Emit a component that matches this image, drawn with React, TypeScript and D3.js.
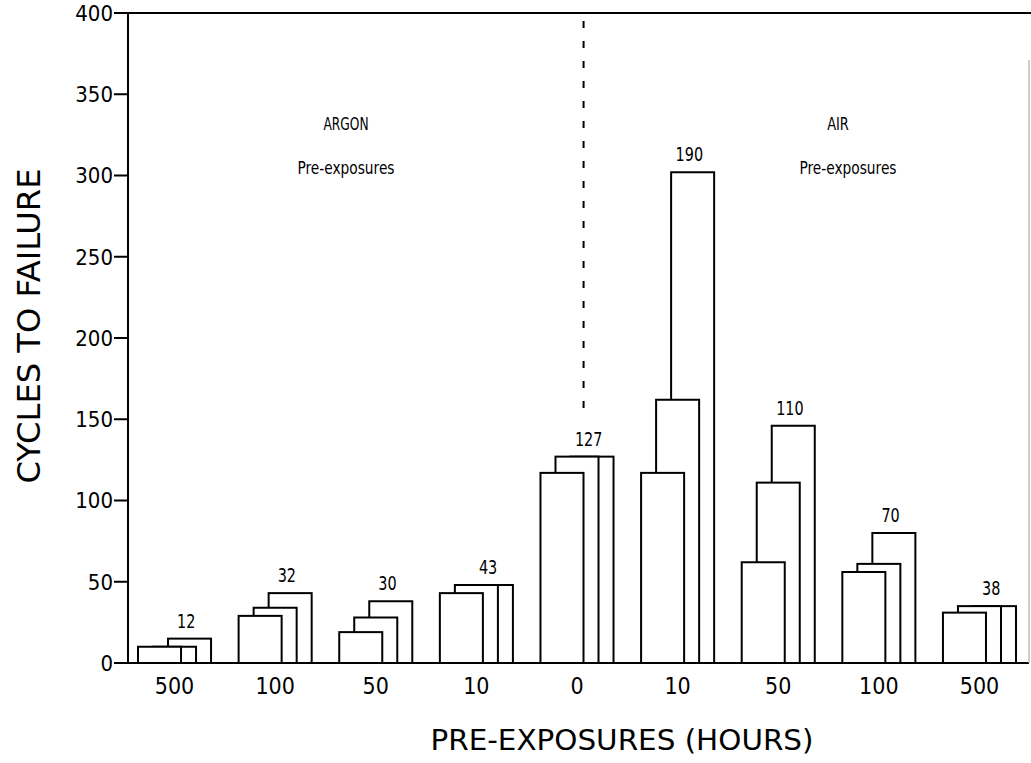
import React from "react";
import * as d3 from "d3";

const categories = ["500", "100", "50", "10", "0", "10", "50", "100", "500"];
const series1 = [10, 29, 19, 43, 117, 117, 62, 56, 31];
const series2 = [10, 34, 28, 48, 127, 162, 111, 61, 35];
const series3 = [15, 43, 38, 48, 127, 302, 146, 80, 35];
const valueLabels = ["12", "32", "30", "43", "127", "190", "110", "70", "38"];
const yTicks = [0, 50, 100, 150, 200, 250, 300, 350, 400];

const W = 1031;
const H = 763;
const FONT = "'DejaVu Sans Condensed','DejaVu Sans',sans-serif";

export default function App() {
  const left = 128;
  const right = 1029;
  const top = 13;
  const bottom = 663;

  const y = d3.scaleLinear().domain([0, 400]).range([bottom, top]);
  const x = d3
    .scaleBand<number>()
    .domain(categories.map((_, i) => i))
    .range([138, 1016])
    .paddingInner(0.274)
    .paddingOuter(0);
  const bw = x.bandwidth();
  const subW = (43 / 73) * bw;
  const subStep = (15 / 73) * bw;

  const seriesList = [series1, series2, series3];
  const dashX = (x(4) as number) + bw * 0.59;

  return (
    <svg
      width={W}
      height={H}
      style={{ position: "absolute", left: 0, top: 0, background: "#fff" }}
      fontFamily={FONT}
    >
      <rect x={0} y={0} width={W} height={H} fill="#fff" />
      {/* frame */}
      <line x1={left} x2={W} y1={top} y2={top} stroke="#000" strokeWidth={2} />
      <line x1={left} x2={left} y1={top} y2={bottom} stroke="#000" strokeWidth={2} />
      <line x1={left} x2={right} y1={bottom} y2={bottom} stroke="#000" strokeWidth={2} />
      <line x1={right} x2={right} y1={60} y2={bottom} stroke="#bbb" strokeWidth={1.5} />

      {/* y ticks */}
      {yTicks.map((t) => (
        <g key={t}>
          <line x1={left - 14} x2={left} y1={y(t)} y2={y(t)} stroke="#000" strokeWidth={2} />
          <text
            x={left - 15}
            y={y(t)}
            dy="0.36em"
            textAnchor="end"
            fontSize={22}
            fill="#000"
          >
            {t}
          </text>
        </g>
      ))}

      {/* dashed divider */}
      <line
        x1={dashX}
        x2={dashX}
        y1={top + 8}
        y2={y(155)}
        stroke="#000"
        strokeWidth={2}
        strokeDasharray="7,13"
      />

      {/* bars: back to front */}
      {categories.map((c, i) => {
        const gx = x(i) as number;
        return (
          <g key={i}>
            {[2, 1, 0].map((k) => {
              const v = seriesList[k][i];
              return (
                <rect
                  key={k}
                  x={gx + k * subStep}
                  y={y(v)}
                  width={subW}
                  height={bottom - y(v)}
                  fill="#fff"
                  stroke="#000"
                  strokeWidth={2}
                />
              );
            })}
          </g>
        );
      })}

      {/* value labels */}
      {categories.map((c, i) => {
        const gx = x(i) as number;
        const mx = Math.max(series1[i], series2[i], series3[i]);
        const lx = gx + bw * 0.66;
        const ly = y(mx) - 11;
        return (
          <text
            key={i}
            transform={`translate(${lx},${ly}) scale(0.8,1)`}
            textAnchor="middle"
            fontSize={20}
            fill="#000"
          >
            {valueLabels[i]}
          </text>
        );
      })}

      {/* category labels */}
      {categories.map((c, i) => (
        <text
          key={i}
          x={(x(i) as number) + bw / 2}
          y={694}
          textAnchor="middle"
          fontSize={23}
          fill="#000"
        >
          {c}
        </text>
      ))}

      {/* group annotations */}
      <text transform="translate(346,130) scale(0.8,1)" textAnchor="middle" fontSize={17} fill="#000">
        ARGON
      </text>
      <text transform="translate(346,174) scale(0.85,1)" textAnchor="middle" fontSize={18} fill="#000">
        Pre-exposures
      </text>
      <text transform="translate(838,130) scale(0.85,1)" textAnchor="middle" fontSize={17} fill="#000">
        AIR
      </text>
      <text transform="translate(848,174) scale(0.85,1)" textAnchor="middle" fontSize={18} fill="#000">
        Pre-exposures
      </text>

      {/* axis titles */}
      <text
        transform="translate(40,326) rotate(-90)"
        textAnchor="middle"
        fontSize={32}
        fill="#000"
        textLength={315}
        lengthAdjust="spacingAndGlyphs"
      >
        CYCLES TO FAILURE
      </text>
      <text
        x={622}
        y={750}
        textAnchor="middle"
        fontSize={28}
        fill="#000"
        textLength={383}
        lengthAdjust="spacingAndGlyphs"
      >
        PRE-EXPOSURES (HOURS)
      </text>
    </svg>
  );
}
